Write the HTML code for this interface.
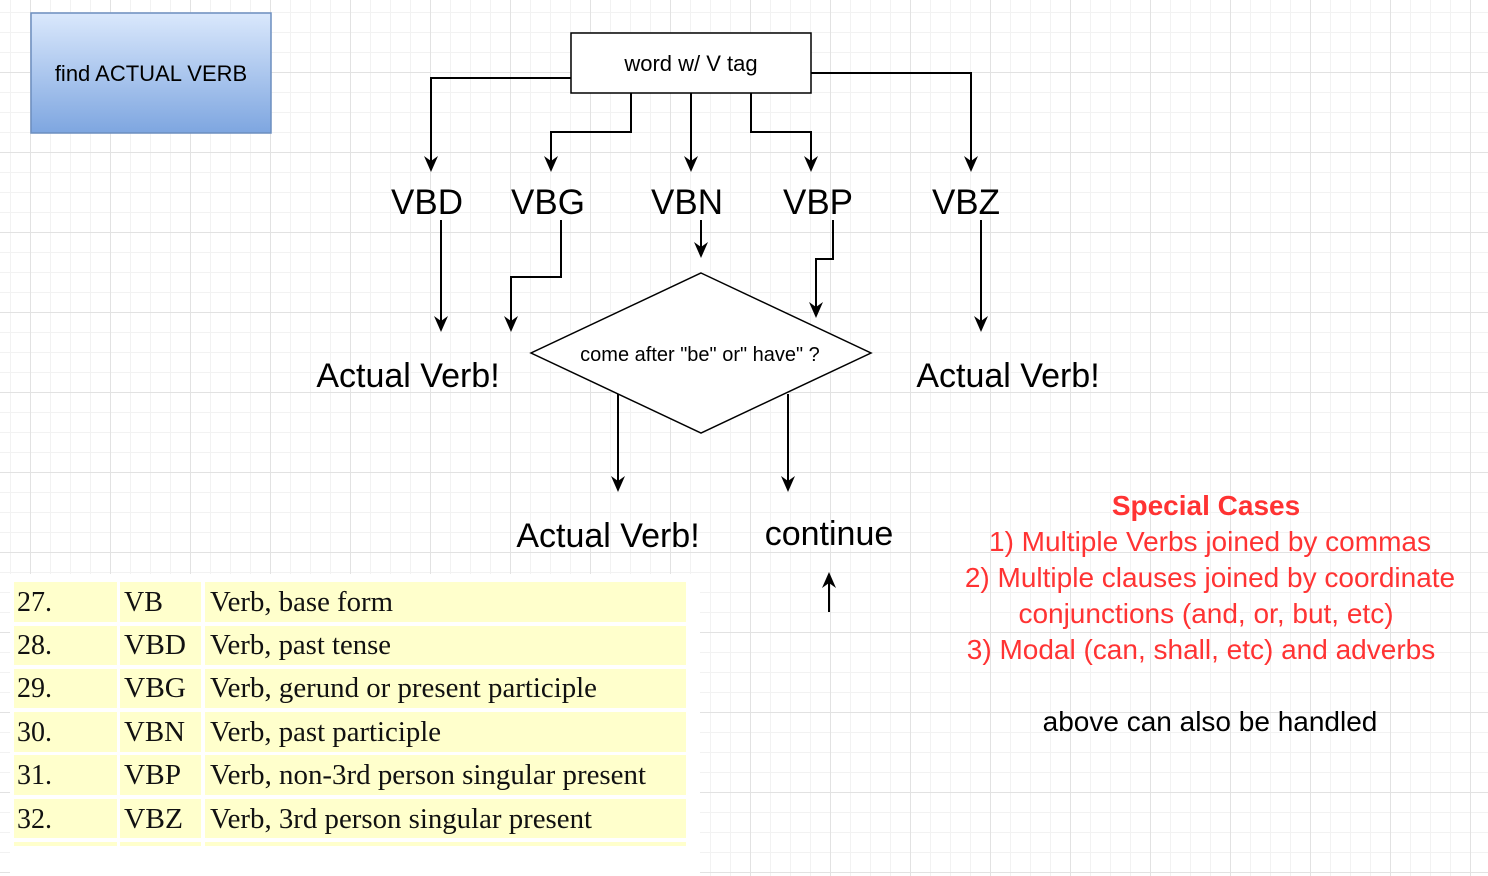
<!DOCTYPE html>
<html><head><meta charset="utf-8"><style>html,body{margin:0;padding:0;background:#fff}svg{display:block}</style></head>
<body>
<svg width="1488" height="876" viewBox="0 0 1488 876" xmlns="http://www.w3.org/2000/svg" font-family="Liberation Sans, Arial, sans-serif">
<defs>
<pattern id="minor" x="10" y="12" width="20" height="20" patternUnits="userSpaceOnUse">
<path d="M0 0.5H20M0.5 0V20" stroke="#f2f2f2" stroke-width="1" fill="none"/>
</pattern>
<pattern id="major" x="30" y="72" width="80" height="80" patternUnits="userSpaceOnUse">
<path d="M0 0.5H80M0.5 0V80" stroke="#e2e2e2" stroke-width="1" fill="none"/>
</pattern>
<linearGradient id="bg" x1="0" y1="0" x2="0" y2="1">
<stop offset="0" stop-color="#dae8fc"/><stop offset="1" stop-color="#7ea6e0"/>
</linearGradient>
</defs>
<rect width="1488" height="876" fill="#fff"/>
<rect width="1488" height="876" fill="url(#minor)"/>
<rect width="1488" height="876" fill="url(#major)"/>

<!-- blue box -->
<rect x="31" y="13" width="240" height="120" fill="url(#bg)" stroke="#6c8ebf" stroke-width="1.5"/>
<text x="151" y="81" font-size="22" text-anchor="middle">find ACTUAL VERB</text>

<!-- word box -->
<rect x="571" y="33" width="240" height="60" fill="#fff" stroke="#000" stroke-width="1.5"/>
<text x="691" y="71" font-size="22" text-anchor="middle">word w/ V tag</text>

<g stroke="#000" stroke-width="2" fill="none">
<path d="M571 78H431V162"/>
<path d="M631 93V132H551V162"/>
<path d="M691 93V162"/>
<path d="M751 93V132H811V162"/>
<path d="M811 73H971V162"/>
<path d="M441 220V322"/>
<path d="M561 220V277H511V322"/>
<path d="M701 220V248"/>
<path d="M833 220V259H816V308"/>
<path d="M981 220V322"/>
<path d="M618 394V482"/>
<path d="M788 394V482"/>
<path d="M829 612V582"/>
</g>
<g fill="#000">
<path d="M424 156L431 172L438 156L431 161Z"/>
<path d="M544 156L551 172L558 156L551 161Z"/>
<path d="M684 156L691 172L698 156L691 161Z"/>
<path d="M804 156L811 172L818 156L811 161Z"/>
<path d="M964 156L971 172L978 156L971 161Z"/>
<path d="M434 316L441 332L448 316L441 321Z"/>
<path d="M504 316L511 332L518 316L511 321Z"/>
<path d="M694 242L701 258L708 242L701 247Z"/>
<path d="M809 302L816 318L823 302L816 307Z"/>
<path d="M974 316L981 332L988 316L981 321Z"/>
<path d="M611 476L618 492L625 476L618 481Z"/>
<path d="M781 476L788 492L795 476L788 481Z"/>
<path d="M822 588L829 572L836 588L829 583Z"/>
</g>

<g font-size="35" text-anchor="middle">
<text x="427" y="214">VBD</text>
<text x="548" y="214">VBG</text>
<text x="687" y="214">VBN</text>
<text x="818" y="214">VBP</text>
<text x="966" y="214">VBZ</text>
</g>

<polygon points="701,273 871,353 701,433 531,353" fill="#fff" stroke="#000" stroke-width="1.5"/>
<text x="700" y="361" font-size="20" text-anchor="middle">come after "be" or" have" ?</text>

<g font-size="34" text-anchor="middle">
<text x="408" y="387">Actual Verb!</text>
<text x="1008" y="387">Actual Verb!</text>
<text x="608" y="547">Actual Verb!</text>
<text x="829" y="545">continue</text>
</g>

<g fill="#ff3333" font-size="28" text-anchor="middle">
<text x="1206" y="515" font-weight="bold">Special Cases</text>
<text x="1210" y="551">1) Multiple Verbs joined by commas</text>
<text x="1210" y="587">2) Multiple clauses joined by coordinate</text>
<text x="1206" y="623">conjunctions (and, or, but, etc)</text>
<text x="1201" y="659">3) Modal (can, shall, etc) and adverbs</text>
</g>
<text x="1210" y="731" font-size="28" text-anchor="middle">above can also be handled</text>

<!-- table -->
<g fill="#ffffcc">
<rect x="10" y="574" width="690" height="302" fill="#fff"/>
<rect x="14" y="582" width="103" height="40"/><rect x="120" y="582" width="81" height="40"/><rect x="205" y="582" width="481" height="40"/>
<rect x="14" y="626" width="103" height="39"/><rect x="120" y="626" width="81" height="39"/><rect x="205" y="626" width="481" height="39"/>
<rect x="14" y="669" width="103" height="39"/><rect x="120" y="669" width="81" height="39"/><rect x="205" y="669" width="481" height="39"/>
<rect x="14" y="712" width="103" height="40"/><rect x="120" y="712" width="81" height="40"/><rect x="205" y="712" width="481" height="40"/>
<rect x="14" y="755" width="103" height="40"/><rect x="120" y="755" width="81" height="40"/><rect x="205" y="755" width="481" height="40"/>
<rect x="14" y="799" width="103" height="39"/><rect x="120" y="799" width="81" height="39"/><rect x="205" y="799" width="481" height="39"/>
<rect x="14" y="842" width="103" height="4"/><rect x="120" y="842" width="81" height="4"/><rect x="205" y="842" width="481" height="4"/>
</g>
<g font-family="Liberation Serif, Times New Roman, serif" font-size="28" fill="#111">
<text x="17" y="611">27.</text><text x="124" y="611">VB</text><text x="210" y="611" textLength="183" lengthAdjust="spacingAndGlyphs">Verb, base form</text>
<text x="17" y="654">28.</text><text x="124" y="654" textLength="62" lengthAdjust="spacingAndGlyphs">VBD</text><text x="210" y="654" textLength="181" lengthAdjust="spacingAndGlyphs">Verb, past tense</text>
<text x="17" y="697">29.</text><text x="124" y="697" textLength="62" lengthAdjust="spacingAndGlyphs">VBG</text><text x="210" y="697" textLength="387" lengthAdjust="spacingAndGlyphs">Verb, gerund or present participle</text>
<text x="17" y="741">30.</text><text x="124" y="741" textLength="61" lengthAdjust="spacingAndGlyphs">VBN</text><text x="210" y="741" textLength="231" lengthAdjust="spacingAndGlyphs">Verb, past participle</text>
<text x="17" y="784">31.</text><text x="124" y="784" textLength="57" lengthAdjust="spacingAndGlyphs">VBP</text><text x="210" y="784" textLength="436" lengthAdjust="spacingAndGlyphs">Verb, non-3rd person singular present</text>
<text x="17" y="828">32.</text><text x="124" y="828" textLength="59" lengthAdjust="spacingAndGlyphs">VBZ</text><text x="210" y="828" textLength="382" lengthAdjust="spacingAndGlyphs">Verb, 3rd person singular present</text>
</g>
</svg>
</body></html>
